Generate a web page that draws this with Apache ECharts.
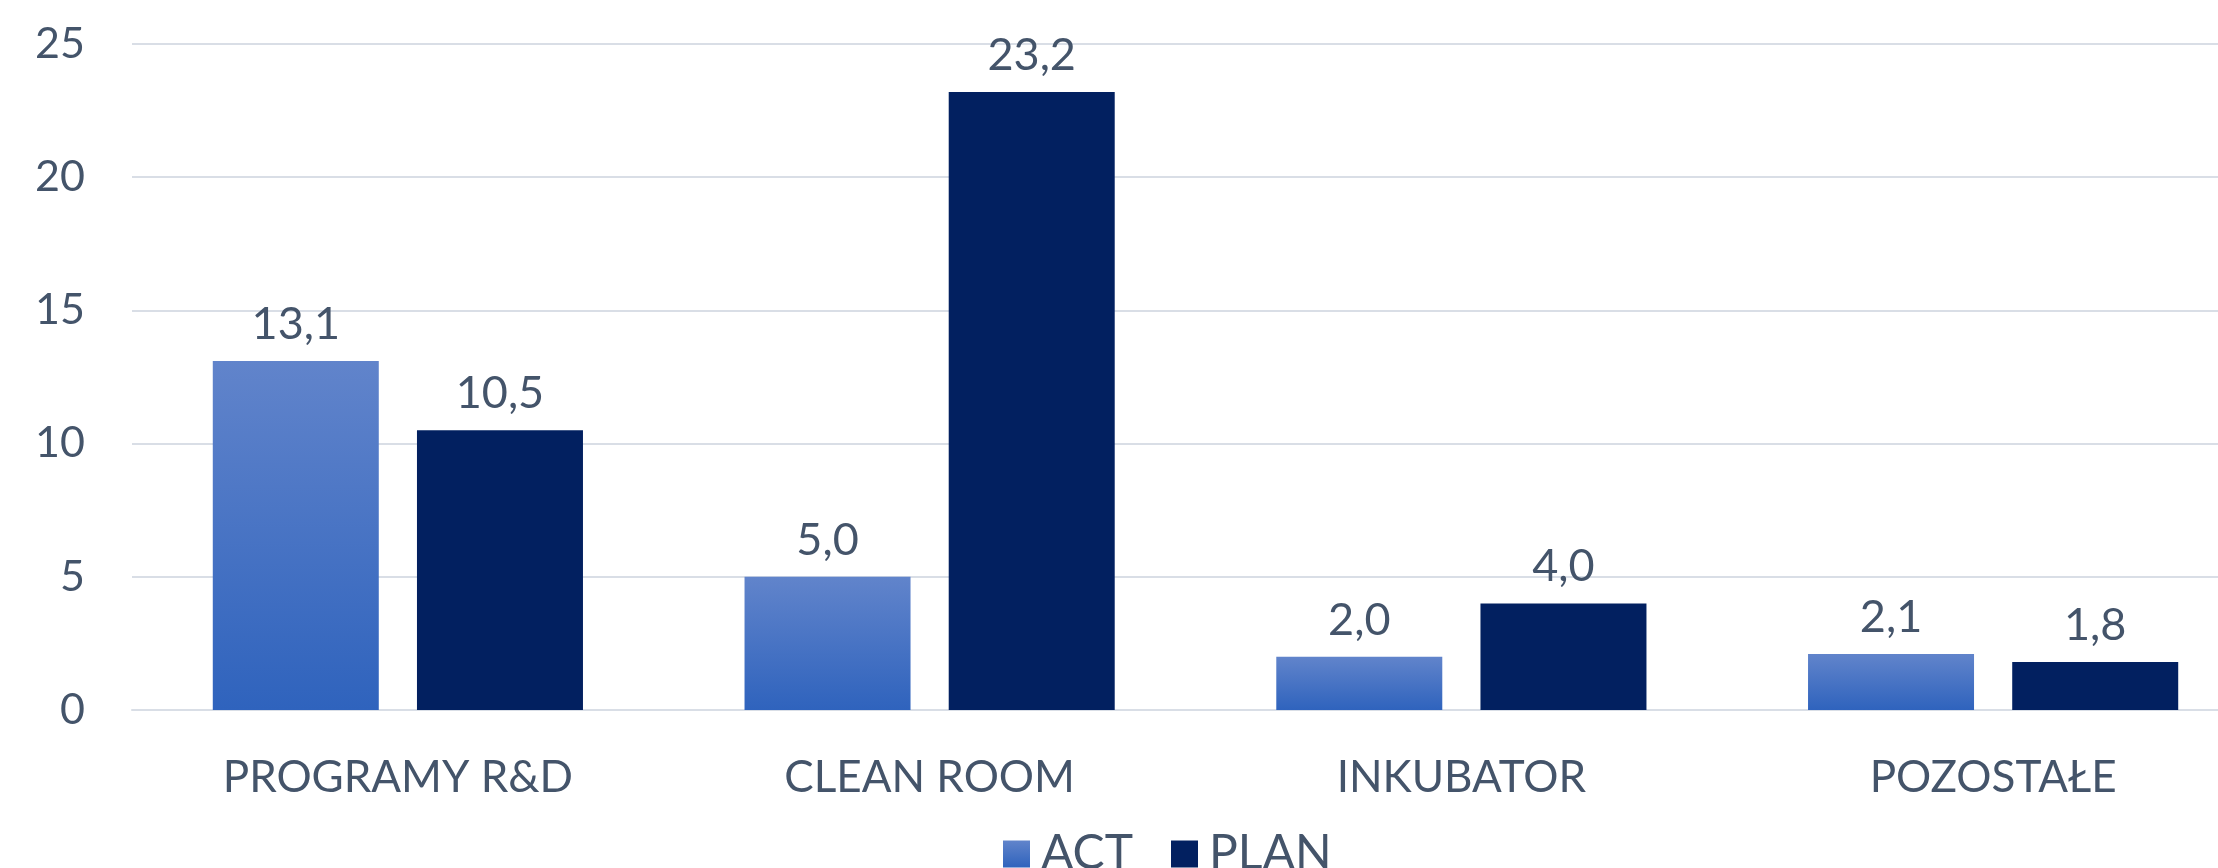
<!DOCTYPE html>
<html><head><meta charset="utf-8">
<script src="https://cdn.jsdelivr.net/npm/echarts@6/dist/echarts.min.js"></script>
<style>html,body{margin:0;padding:0;background:#fff}#c{width:2218px;height:868px}</style>
</head><body><div id="c"></div>
<script>
const categories = ['PROGRAMY R&D', 'CLEAN ROOM', 'INKUBATOR', 'POZOSTAŁE'];
const actValues = [13.1, 5.0, 2.0, 2.1];
const planValues = [10.5, 23.2, 4.0, 1.8];
const yTicks = [0, 5, 10, 15, 20, 25];

const txt = '#44546A';
const font = 'Lato';
const fmt = p => p.value.toFixed(1).replace('.', ',');
const chart = echarts.init(document.getElementById('c'));
chart.setOption({
  animation: false,
  textStyle: { fontFamily: font },
  grid: { left: 132, width: 2127, top: 44, height: 666, outerBoundsMode: 'none', containLabel: false },
  legend: {
    left: 998, top: 825, itemWidth: 27, itemHeight: 27, itemGap: 38,
    icon: 'rect',
    textStyle: { color: txt, fontSize: 48, fontFamily: font, padding: [0, 0, 0, 6] },
    data: ['ACT', 'PLAN']
  },
  xAxis: {
    type: 'category', data: categories,
    axisLine: { lineStyle: { color: '#D9DEE6', width: 2 } },
    axisTick: { show: false },
    axisLabel: { color: txt, fontSize: 44, margin: 46, fontFamily: font }
  },
  yAxis: {
    type: 'value', min: yTicks[0], max: yTicks[yTicks.length - 1], interval: 5,
    axisLine: { show: false }, axisTick: { show: false },
    splitLine: { lineStyle: { color: '#D9DEE6', width: 2 } },
    axisLabel: { color: txt, fontSize: 43, margin: 47, fontFamily: font }
  },
  series: [
    {
      name: 'ACT', type: 'bar', data: actValues, barWidth: 166, barGap: '23%',
      itemStyle: { color: new echarts.graphic.LinearGradient(0, 0, 0, 1, [
        { offset: 0, color: '#6184CB' }, { offset: 1, color: '#2F63BD' }]) },
      label: { show: true, position: 'top', distance: 14, color: txt, fontSize: 45, fontFamily: font, formatter: fmt }
    },
    {
      name: 'PLAN', type: 'bar', data: planValues, barWidth: 166,
      itemStyle: { color: '#022060' },
      label: { show: true, position: 'top', distance: 14, color: txt, fontSize: 45, fontFamily: font, formatter: fmt }
    }
  ]
});
</script></body></html>
